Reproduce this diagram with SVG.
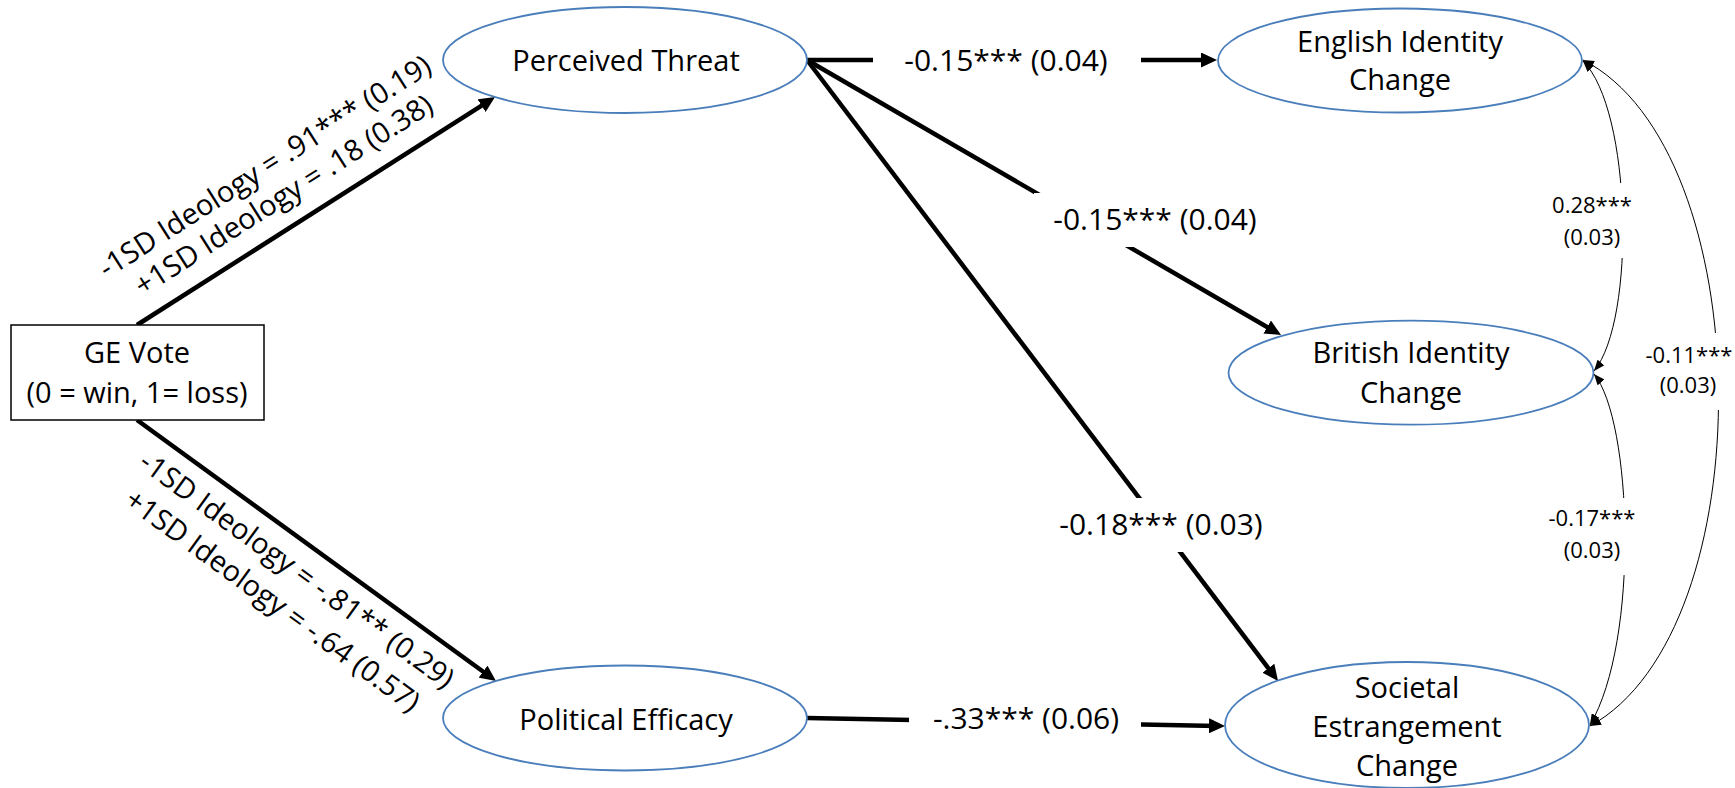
<svg xmlns="http://www.w3.org/2000/svg" width="1735" height="788" viewBox="0 0 1735 788">
<style>
  .node { fill:#ffffff; stroke:#4a7ebb; stroke-width:1.8; }
  .box { fill:#ffffff; stroke:#000000; stroke-width:1.5; }
  .t { font-family:"Open Sans","Liberation Sans",sans-serif; font-size:29px; fill:#000000; text-anchor:middle; }
  .lbl { font-family:"Open Sans","Liberation Sans",sans-serif; font-size:30px; fill:#000000; text-anchor:middle; }
  .sm { font-family:"Open Sans","Liberation Sans",sans-serif; font-size:22px; fill:#000000; text-anchor:middle; }
  .thick { fill:none; stroke:#000000; stroke-width:4.5; marker-end:url(#ah); }
  .thin { fill:none; stroke:#000000; stroke-width:1; marker-start:url(#sh); marker-end:url(#sh); }
  .bg { fill:#ffffff; stroke:none; }
</style>
<defs>
  <marker id="ah" markerUnits="userSpaceOnUse" markerWidth="16" markerHeight="15" refX="8" refY="7.5" orient="auto">
    <path d="M0,0 L16,7.5 L0,15 z" fill="#000000"/>
  </marker>
  <marker id="sh" markerUnits="userSpaceOnUse" markerWidth="11" markerHeight="9" refX="11" refY="4.5" orient="auto-start-reverse">
    <path d="M0,0 L11,4.5 L0,9 z" fill="#000000"/>
  </marker>
</defs>

<g id="connectors">
  <path id="e-ge-pt" class="thick" d="M137,325 L488.3,101.3"/>
  <path id="e-ge-pe" class="thick" d="M137,420 L489.5,676.3"/>
  <path id="e-pt-en" class="thick" d="M807,60 L1209,60"/>
  <path id="e-pt-br" class="thick" d="M807,60 L1274.1,331"/>
  <path id="e-pt-so" class="thick" d="M807,60 L1273.2,674.6"/>
  <path id="e-pe-so" class="thick" d="M807,718 L1217,725.9"/>
  <path id="c-en-br" class="thin" d="M1583,61 C1632,110 1636,320 1594,371"/>
  <path id="c-br-so" class="thin" d="M1594,374 C1632,420 1640,640 1590,725"/>
  <path id="c-en-so" class="thin" d="M1583,60 C1760,150 1765,630 1590,726"/>

  <g id="edge-labels">
    <rect class="bg" x="873" y="40" width="268" height="42"/>
    <text class="lbl" x="1006" y="71">-0.15*** (0.04)</text>
    <rect class="bg" x="1034" y="193" width="234" height="54"/>
    <text class="lbl" x="1155" y="230">-0.15*** (0.04)</text>
    <rect class="bg" x="1050" y="498" width="225" height="54"/>
    <text class="lbl" x="1161" y="535">-0.18*** (0.03)</text>
    <rect class="bg" x="909" y="700" width="232" height="46"/>
    <text class="lbl" x="1026" y="729">-.33*** (0.06)</text>

    <rect class="bg" x="1550" y="183" width="86" height="75"/>
    <text class="sm" x="1592" y="213">0.28***</text>
    <text class="sm" x="1592" y="245">(0.03)</text>
    <rect class="bg" x="1546" y="498" width="94" height="77"/>
    <text class="sm" x="1592" y="526">-0.17***</text>
    <text class="sm" x="1592" y="558">(0.03)</text>
    <rect class="bg" x="1645" y="333" width="90" height="77"/>
    <text class="sm" x="1689" y="363">-0.11***</text>
    <text class="sm" x="1688" y="393">(0.03)</text>

    <text class="t" transform="translate(270,175) rotate(-32.5)">-1SD Ideology = .91*** (0.19)</text>
    <text class="t" transform="translate(289,203.5) rotate(-32.5)">+1SD Ideology = .18 (0.38)</text>
    <text class="t" transform="translate(291,578) rotate(36)">-1SD Ideology = -.81** (0.29)</text>
    <text class="t" transform="translate(266.7,608.6) rotate(36)">+1SD Ideology = -.64 (0.57)</text>
  </g>
</g>

<g id="ge-vote">
  <rect class="box" x="11" y="325" width="253" height="95"/>
  <text class="t" x="137" y="363">GE Vote</text>
  <text class="t" x="137" y="403">(0 = win, 1= loss)</text>
</g>

<g id="perceived-threat">
  <ellipse class="node" cx="625" cy="60" rx="182" ry="53"/>
  <text class="t" x="626" y="71">Perceived Threat</text>
</g>

<g id="political-efficacy">
  <ellipse class="node" cx="625" cy="718" rx="182" ry="52.5"/>
  <text class="t" x="626" y="730">Political Efficacy</text>
</g>

<g id="english-identity">
  <ellipse class="node" cx="1400" cy="60.5" rx="182" ry="52"/>
  <text class="t" x="1400" y="52">English Identity</text>
  <text class="t" x="1400" y="90">Change</text>
</g>

<g id="british-identity">
  <ellipse class="node" cx="1411" cy="372.7" rx="182.5" ry="52"/>
  <text class="t" x="1411" y="363">British Identity</text>
  <text class="t" x="1411" y="403">Change</text>
</g>

<g id="societal-estrangement">
  <ellipse class="node" cx="1407" cy="725" rx="182" ry="63"/>
  <text class="t" x="1407" y="698">Societal</text>
  <text class="t" x="1407" y="737">Estrangement</text>
  <text class="t" x="1407" y="776">Change</text>
</g>
</svg>
